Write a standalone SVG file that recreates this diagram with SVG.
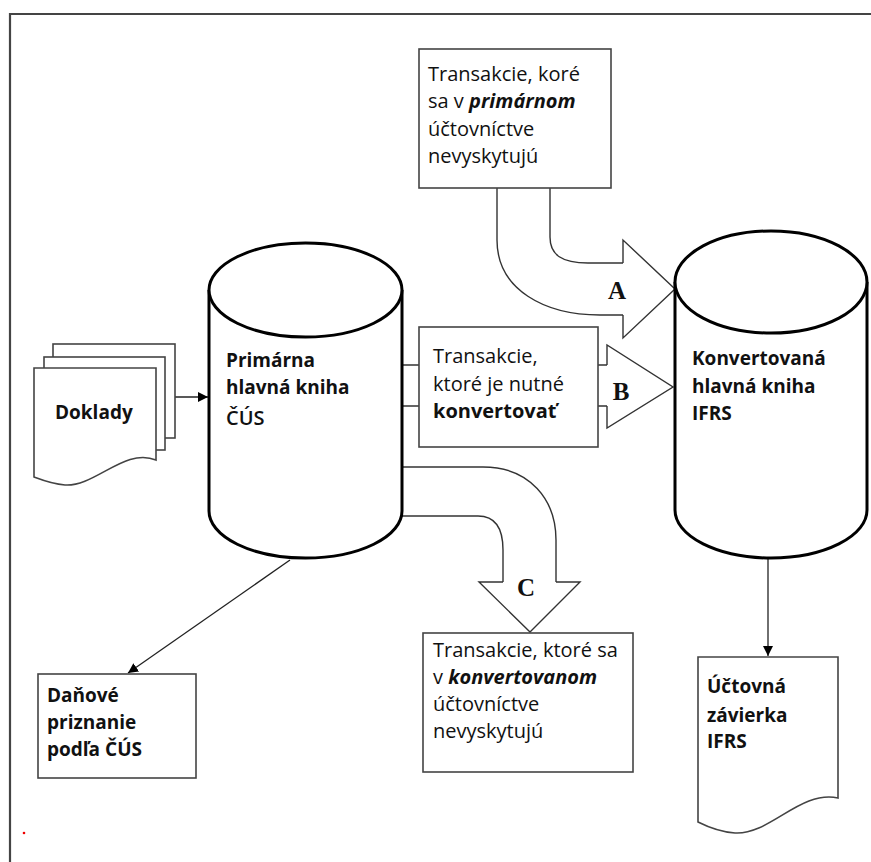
<svg xmlns="http://www.w3.org/2000/svg" width="871" height="862" viewBox="0 0 871 862">
<defs>
<style>
.t{font-family:"Open Sans","Liberation Sans",sans-serif;font-size:20px;fill:#111}
.b{font-family:"Open Sans","Liberation Sans",sans-serif;font-size:19px;font-weight:bold;fill:#111}
.lbl{font-family:"Liberation Serif",serif;font-size:25px;font-weight:bold;fill:#111;text-anchor:middle}
.box{fill:#fff;stroke:#444;stroke-width:1.6}
.cyl{fill:#fff;stroke:#000;stroke-width:3}
.fat{fill:none;stroke:#333;stroke-width:1.4}
.head{fill:#fff;stroke:#333;stroke-width:1.4;stroke-linejoin:miter}
.ln{fill:none;stroke:#222;stroke-width:1.3}
</style>
<marker id="ah" viewBox="0 0 10 10" refX="10" refY="5" markerWidth="10" markerHeight="10" markerUnits="userSpaceOnUse" orient="auto">
<path d="M0,0 L10,5 L0,10 Z" fill="#000"/>
</marker>
</defs>
<rect width="871" height="862" fill="#fff"/>
<path d="M10,862 V14 H871" fill="none" stroke="#444" stroke-width="2.2"/>
<circle cx="24" cy="833" r="1.3" fill="#e00"/>

<g id="connectors">
<line class="ln" x1="175" y1="397" x2="208" y2="397" marker-end="url(#ah)"/>
<line class="ln" x1="290" y1="560" x2="128" y2="673" marker-end="url(#ah)"/>
<line class="ln" x1="768" y1="558" x2="768" y2="656" marker-end="url(#ah)"/>
<g id="arrowA">
<path class="fat" d="M497,188 V240 C497,290 545,315 600,315 H623"/>
<path class="fat" d="M550,188 V237 C550,255 562,263 588,263 H623"/>
<path class="head" d="M623,263 V240 L675,289 L623,338 V315"/>
<text class="lbl" x="617" y="299">A</text>
</g>
<g id="arrowB">
<path class="fat" d="M402,365 H419 M402,406 H419 M598,365 H607 M598,406 H607"/>
<path class="head" d="M607,365 V345 L673,387 L607,428 V406"/>
<text class="lbl" x="621" y="400">B</text>
</g>
<g id="arrowC">
<path class="fat" d="M402,467 H483 C530,467 556,500 556,540 V582"/>
<path class="fat" d="M402,516 H478 C497,516 503,530 503,550 V582"/>
<path class="head" d="M503,582 H479 L530,632 L580,582 H556"/>
<text class="lbl" x="526" y="596">C</text>
</g>
</g>

<g id="topbox">
<rect class="box" x="419" y="49" width="192" height="139"/>
<text class="t" x="428" y="81">Transakcie, koré</text>
<text class="t" x="428" y="108">sa v <tspan font-weight="bold" font-style="italic">primárnom</tspan></text>
<text class="t" x="428" y="136">účtovníctve</text>
<text class="t" x="428" y="163">nevyskytujú</text>
</g>

<g id="boxB">
<rect class="box" x="419" y="327" width="179" height="120"/>
<text class="t" x="433" y="363">Transakcie,</text>
<text class="t" x="433" y="391">ktoré je nutné</text>
<text class="t" x="433" y="418" font-weight="bold">konvertovať</text>
</g>

<g id="boxC">
<rect class="box" x="423" y="633" width="210" height="139"/>
<text class="t" x="433" y="657">Transakcie, ktoré sa</text>
<text class="t" x="433" y="684">v <tspan font-weight="bold" font-style="italic">konvertovanom</tspan></text>
<text class="t" x="433" y="711">účtovníctve</text>
<text class="t" x="433" y="738">nevyskytujú</text>
</g>

<g id="doklady">
<rect class="box" x="53" y="344" width="122" height="94"/>
<rect class="box" x="44" y="357" width="121" height="93"/>
<path class="box" d="M34,368 H156 V460 C125,447 95,487 65,485 C52,484 42,480 34,477 Z"/>
<text class="b" x="55" y="419">Doklady</text>
</g>

<g id="primarna">
<path class="cyl" d="M209,290 V511 A96.5,47 0 0 0 402,511 V290"/>
<ellipse class="cyl" cx="305.5" cy="290" rx="96.5" ry="47"/>
<text class="b" x="226" y="367">Primárna</text>
<text class="b" x="226" y="394">hlavná kniha</text>
<text class="t" x="226" y="425" font-weight="600">ČÚS</text>
</g>

<g id="konvertovana">
<path class="cyl" d="M675,282 V510 A96,48 0 0 0 867,510 V282"/>
<ellipse class="cyl" cx="771" cy="282" rx="96" ry="51"/>
<text class="b" x="692" y="365">Konvertovaná</text>
<text class="b" x="692" y="393">hlavná kniha</text>
<text class="b" x="692" y="420">IFRS</text>
</g>

<g id="danove">
<rect class="box" x="38" y="674" width="158" height="104"/>
<text class="b" x="47" y="702">Daňové</text>
<text class="b" x="47" y="729">priznanie</text>
<text class="b" x="47" y="756">podľa ČÚS</text>
</g>

<g id="zavierka">
<path class="box" d="M698,657 H838 V798 C800,790 770,835 735,833 C720,832 708,827 698,822 Z"/>
<text class="b" x="707" y="693">Účtovná</text>
<text class="b" x="707" y="722">závierka</text>
<text class="b" x="707" y="748">IFRS</text>
</g>
</svg>
